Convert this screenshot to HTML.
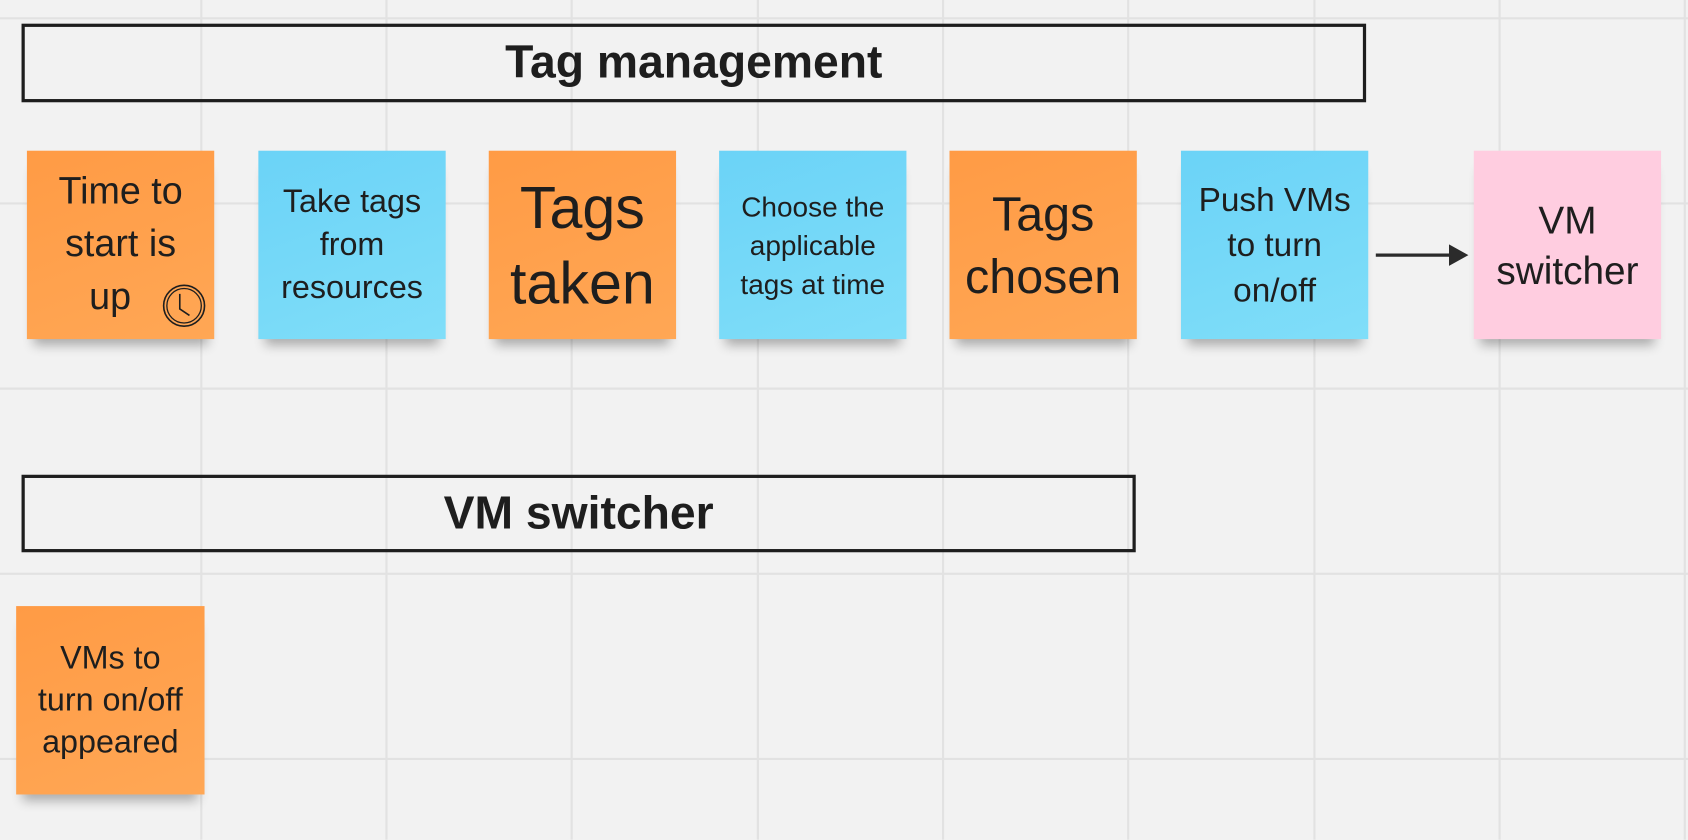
<!DOCTYPE html>
<html><head><style>
html,body{margin:0;padding:0;width:1688px;height:840px;overflow:hidden;background:#f2f2f2}
#w{position:absolute;left:0;top:0;width:1568px;height:780px;transform:scale(1.07653);transform-origin:0 0;font-family:"Liberation Sans",sans-serif;color:#1e1e1e}
.v{position:absolute;top:0;width:2px;height:780px;background:#e2e2e2}
.h{position:absolute;left:0;height:2px;width:1568px;background:#e2e2e2}
.t{position:absolute;border:3px solid #1e1e1e;box-sizing:border-box;display:flex;align-items:center;justify-content:center;font-weight:bold;font-size:43px}
.n{position:absolute;width:174px;height:175px;display:flex;align-items:center;justify-content:center;text-align:center;box-shadow:0 12px 10px -6px rgba(0,0,0,0.3);white-space:nowrap}
.o{background:linear-gradient(160deg,#ff9b45,#ffa755)}
.b{background:linear-gradient(160deg,#6bd3f7,#80def9)}
.p{background:#ffcde0}
</style></head><body><div id="w">
<div class="v" style="left:186px"></div><div class="v" style="left:358px"></div><div class="v" style="left:530px"></div><div class="v" style="left:703px"></div><div class="v" style="left:875px"></div><div class="v" style="left:1047px"></div><div class="v" style="left:1220px"></div><div class="v" style="left:1392px"></div><div class="v" style="left:1564px"></div>
<div class="h" style="top:16px"></div><div class="h" style="top:188px"></div><div class="h" style="top:360px"></div><div class="h" style="top:532px"></div><div class="h" style="top:704px"></div>
<div class="t" style="left:20px;top:22px;width:1249px;height:73px">Tag management</div>
<div class="t" style="left:20px;top:441px;width:1035px;height:72px">VM switcher</div>
<div class="n o" style="left:25px;top:140px;font-size:35px;line-height:49px;padding-bottom:2px;box-sizing:border-box">Time to<br>start is<br>&nbsp;&nbsp;&nbsp;up&nbsp;&nbsp;&nbsp;&nbsp;&nbsp;</div>
<svg style="position:absolute;left:150px;top:263px" width="42" height="42"><circle cx="21" cy="21" r="19" fill="none" stroke="#1e1e1e" stroke-width="1.5"/><circle cx="21" cy="21" r="16" fill="none" stroke="#1e1e1e" stroke-width="1.2"/><path d="M17 10 V24 L26 30" fill="none" stroke="#1e1e1e" stroke-width="1.5"/></svg>
<div class="n b" style="left:240px;top:140px;font-size:30px;line-height:40px">Take tags<br>from<br>resources</div>
<div class="n o" style="left:454px;top:140px;font-size:55px;line-height:70px">Tags<br>taken</div>
<div class="n b" style="left:668px;top:140px;font-size:26px;line-height:36px">Choose the<br>applicable<br>tags at time</div>
<div class="n o" style="left:882px;top:140px;font-size:45px;line-height:58px">Tags<br>chosen</div>
<div class="n b" style="left:1097px;top:140px;font-size:31px;line-height:42px">Push VMs<br>to turn<br>on/off</div>
<svg style="position:absolute;left:1276px;top:224px" width="90" height="26"><line x1="2" y1="13" x2="80" y2="13" stroke="#2b2b2b" stroke-width="3"/><path d="M70 3 L88 13 L70 23 Z" fill="#2b2b2b"/></svg>
<div class="n p" style="left:1369px;top:140px;font-size:36px;line-height:47px">VM<br>switcher</div>
<div class="n o" style="left:15px;top:563px;width:175px;font-size:30px;line-height:39px">VMs to<br>turn on/off<br>appeared</div>
</div></body></html>
